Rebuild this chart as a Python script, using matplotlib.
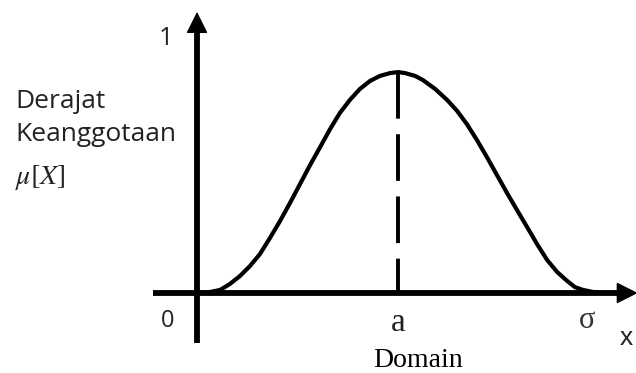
import matplotlib
matplotlib.use("Agg")
import matplotlib.pyplot as plt

# ---- data (domain units; mu = membership degree) ----
x_vals = [0.08, 0.34, 0.60, 0.85, 1.11, 1.37, 1.63, 1.89, 2.15, 2.41, 2.67, 2.93,
          3.19, 3.45, 3.70, 3.96, 4.22, 4.48, 4.74, 5.00, 5.21, 5.39, 5.65, 5.85,
          6.17, 6.48, 6.74, 6.99, 7.25, 7.51, 7.77, 8.03, 8.29, 8.55, 8.81, 9.07,
          9.33, 9.59, 9.79, 10.00, 10.26, 10.52]
mu_vals = [0.000, 0.004, 0.012, 0.035, 0.066, 0.105, 0.152, 0.215, 0.281, 0.352,
           0.426, 0.500, 0.570, 0.641, 0.703, 0.754, 0.797, 0.828, 0.848, 0.859,
           0.863, 0.859, 0.848, 0.832, 0.797, 0.754, 0.711, 0.660, 0.598, 0.531,
           0.461, 0.391, 0.324, 0.258, 0.191, 0.129, 0.082, 0.047, 0.023, 0.012,
           0.004, 0.000]
a_pos = 5.21
a_peak = 0.863
sigma_pos = 10.1
x_tick_labels = ["0", "a", "\u03c3"]
y_tick_labels = ["0", "1"]

plt.rcParams["mathtext.fontset"] = "stix"

fig = plt.figure(figsize=(6.36, 3.73), dpi=100)
ax = fig.add_axes([0, 0, 1, 1])
ax.set_xlim(-5.104, 11.373)
ax.set_ylim(-0.3125, 1.1445)
ax.axis("off")

# axes lines with arrow heads
ax.plot([-1.14, 11.0], [0, 0], color="black", lw=4.2, solid_capstyle="butt", zorder=3)
ax.plot([0, 0], [-0.195, 1.02], color="black", lw=4.2, solid_capstyle="butt", zorder=3)
ax.annotate("", xy=(11.42, 0), xytext=(10.8, 0), annotation_clip=False,
            arrowprops=dict(arrowstyle="-|>", mutation_scale=34, lw=1,
                            color="black", shrinkA=0, shrinkB=0), zorder=4)
ax.annotate("", xy=(0, 1.098), xytext=(0, 0.98), annotation_clip=False,
            arrowprops=dict(arrowstyle="-|>", mutation_scale=34, lw=1,
                            color="black", shrinkA=0, shrinkB=0), zorder=4)

# curve
ax.plot(x_vals, mu_vals, color="black", lw=3, solid_capstyle="round",
        solid_joinstyle="round", zorder=2)
# dashed line at a
ax.plot([a_pos, a_pos], [a_peak, 0], color="black", lw=2.8,
        linestyle=(0, (12, 4)), dash_capstyle="butt", zorder=2)

sans = "Open Sans"
# tick labels
ax.text(-0.80, 0.970, y_tick_labels[1], fontsize=18, family=sans,
        ha="center", va="baseline", color="#222222")
ax.text(-0.75, -0.133, x_tick_labels[0], fontsize=17, family=sans,
        ha="center", va="baseline", color="#222222")
ax.text(a_pos, -0.148, x_tick_labels[1], fontsize=24, family="Liberation Serif",
        ha="center", va="baseline", color="#222222")
ax.text(sigma_pos, -0.137, x_tick_labels[2], fontsize=22, family="Liberation Serif",
        ha="center", va="baseline", color="#333333")
ax.text(10.95, -0.205, "x", fontsize=19, family="Liberation Sans",
        ha="left", va="baseline", color="#222222")
ax.text(5.73, -0.289, "Domain", fontsize=20, family="Liberation Serif",
        ha="center", va="baseline")

# y label block
fig.text(15 / 636, 1 - 108 / 373, "Derajat", fontsize=19, family=sans,
         ha="left", va="baseline", color="#222222")
fig.text(15 / 636, 1 - 141 / 373, "Keanggotaan", fontsize=19, family=sans,
         ha="left", va="baseline", color="#222222")
fig.text(15 / 636, 1 - 184 / 373, r"$\mu[X]$", fontsize=20,
         ha="left", va="baseline", color="#222222")

fig.savefig("out.png", dpi=100, facecolor="white")
